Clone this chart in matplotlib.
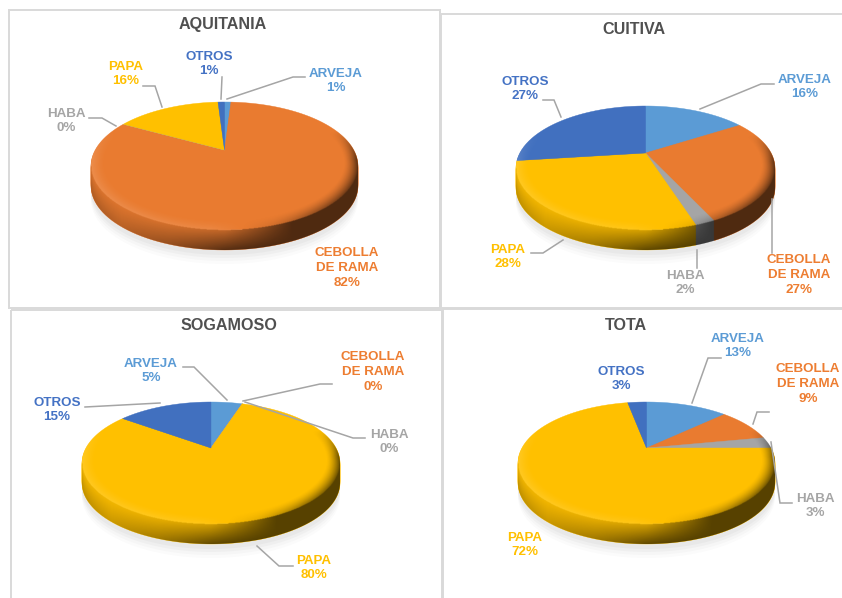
import numpy as np
import matplotlib
matplotlib.use('Agg')
import matplotlib.pyplot as plt
from matplotlib.path import Path
from matplotlib.patches import Circle, Polygon, Rectangle
from matplotlib.transforms import Transform, Affine2D

plt.rcParams['font.family'] = ['Liberation Sans', 'DejaVu Sans']

# data
categories = ['ARVEJA', 'CEBOLLA\nDE RAMA', 'HABA', 'PAPA', 'OTROS']
aquitania = [1, 82, 0, 16, 1]
cuitiva = [16, 27, 2, 28, 27]
sogamoso = [5, 0, 0, 80, 15]
tota = [13, 9, 3, 72, 3]

slice_colors = ['#5B9BD5', '#E97B30', '#A5A5A5', '#FFC000', '#4170BF']
text_colors = ['#5B9BD5', '#ED7D31', '#A5A5A5', '#FFC000', '#4472C4']

# layout in pixels: title, apex, pie top, face bottom, left, right
layout = {
    'AQUITANIA': dict(values=aquitania, title=(223, 25), apex=(225, 150), top=102, bottom=230, left=91, right=358),
    'CUITIVA': dict(values=cuitiva, title=(634, 29), apex=(646, 153), top=106, bottom=230, left=516, right=775),
    'SOGAMOSO': dict(values=sogamoso, title=(229, 325), apex=(211, 448), top=402, bottom=524, left=82, right=340),
    'TOTA': dict(values=tota, title=(626, 325), apex=(647, 448), top=402, bottom=524, left=518, right=775),
}

# label centres, same order as categories
label_pos = {
    'AQUITANIA': [(336, 81), (347, 268), (66, 121), (126, 74), (209, 64)],
    'CUITIVA': [(805, 87), (799, 275), (685, 283), (508, 257), (525, 89)],
    'SOGAMOSO': [(151, 371), (373, 372), (389, 442), (314, 568), (57, 410)],
    'TOTA': [(738, 346), (808, 384), (815, 506), (525, 545), (621, 379)],
}

# leader lines
leaders = [
    [(227, 99), (293, 77), (305, 77)],
    [(221, 99), (222, 77)],
    [(162, 107), (155, 86), (143, 86)],
    [(116, 126), (102, 118), (89, 118)],
    [(700, 109), (761, 84), (774, 84)],
    [(561, 117), (554, 100), (543, 100)],
    [(563, 240), (543, 253), (531, 253)],
    [(697, 250), (697, 268)],
    [(772, 199), (772, 253)],
    [(227, 400), (194, 367), (183, 367)],
    [(243, 401), (320, 384), (332, 384)],
    [(245, 402), (353, 438), (365, 438)],
    [(160, 403), (85, 407)],
    [(257, 546), (279, 566), (293, 566)],
    [(692, 403), (708, 358), (721, 358)],
    [(753, 424), (757, 412), (769, 412)],
    [(771, 442), (780, 503), (792, 503)],
]

frames = [(9, 10, 431, 298), (441, 14, 420, 294), (11, 310, 431, 300), (443, 309, 420, 300)]

DEPTH = 20


# tilts a unit circle into perspective, the apex is off the ellipse centre
class Tilt(Transform):
    input_dims = 2
    output_dims = 2
    has_inverse = False
    is_separable = False

    def __init__(self, cx, cy, A, B, k, dy=0):
        super().__init__()
        self.cx, self.cy, self.A, self.B, self.k, self.dy = cx, cy, A, B, k, dy

    def transform_non_affine(self, values):
        xy = np.asarray(values, dtype=float)
        w = 1 + self.k * xy[:, 1]
        return np.column_stack([self.cx + self.A * xy[:, 0] / w,
                                self.cy + self.dy - self.B * xy[:, 1] / w])

    def transform_path_non_affine(self, path):
        # flatten the curves first (scaled, otherwise too coarse)
        polys = path.to_polygons(Affine2D().scale(400), closed_only=False)
        if len(polys) == 0:
            return path
        return Path(self.transform_non_affine(polys[0] / 400))


def tilt_params(p):
    cx, cy = p['apex']
    up = cy - p['top']
    down = p['bottom'] - cy
    k = (down - up) / (down + up)
    B = up * (1 + k)
    A = (p['right'] - p['left']) / 2 * np.sqrt(1 - k ** 2)
    return (p['left'] + p['right']) / 2, cy, A, B, k


def draw_pie(ax, values, params, dy, zorder):
    wedges, _ = ax.pie(values, colors=slice_colors, startangle=90, counterclock=False,
                       wedgeprops=dict(linewidth=0.3))
    tr = Tilt(*params, dy=dy) + ax.transData
    for w, c in zip(wedges, slice_colors):
        w.set_transform(tr)
        w.set_edgecolor(c)
        w.set_zorder(zorder)


# the rim and side lighting goes on top as one clipped image
def draw_shading(ax, params, zorder):
    cx, cy, A, B, k = params
    tilt = Tilt(*params)
    th = np.linspace(0, 2 * np.pi, 721)[:-1]
    pts = tilt.transform_non_affine(np.column_stack([np.cos(th), np.sin(th)]))
    pts = np.roll(pts, -np.argmax(pts[:, 0]), axis=0)
    il = np.argmin(pts[:, 0])
    upper = pts[:il + 1]
    lower = pts[il:]
    outline = np.vstack([upper, lower + [0, DEPTH], pts[:1] + [0, DEPTH]])

    x0, x1 = pts[:, 0].min() - 2, pts[:, 0].max() + 2
    y0, y1 = pts[:, 1].min() - 2, pts[:, 1].max() + DEPTH + 2
    nx, ny = int((x1 - x0) * 2), int((y1 - y0) * 2)
    X, Y = np.meshgrid(np.linspace(x0, x1, nx), np.linspace(y0, y1, ny))

    # back to circle coordinates
    xp = (X - cx) / A
    yp = (cy - Y) / B
    w = 1 / (1 - k * yp)
    ux, uy = xp * w, yp * w
    r = np.hypot(ux, uy)
    t = np.clip((X - x0) / (x1 - x0), 0, 1)

    order = np.argsort(lower[:, 0])
    arc = np.interp(X, lower[order, 0], lower[order, 1])
    v = np.clip((Y - arc) / DEPTH, 0, 1)

    # side, light band under the rim on the left, flat dark on the right
    side = np.interp(t, [0, 0.12, 0.3, 0.55, 0.75, 1], [0.2, 0.16, 0.28, 0.52, 0.66, 0.66])
    f = np.interp(t, [0, 0.5, 0.75], [0, 0, 1])
    side = side * ((1 - f) * (0.35 + 0.95 * v) + f)
    side = np.clip(side, 0, 0.8)

    # bevel ring on the top face
    s = np.clip((r - 0.9) / 0.1, 0, 1) ** 1.5
    front = np.clip((0.35 - uy / np.maximum(r, 1e-6)) / 0.5, 0, 1)
    light = np.interp(t, [0, 0.45, 0.68, 0.85, 1], [0.14, 0.1, -0.1, -0.4, -0.6])
    ring = light * s * front

    rgba = np.zeros((ny, nx, 4))
    face = (r <= 1) | (Y < arc)
    rgba[..., 3] = np.where(face, np.abs(ring), side)
    rgba[..., :3] = np.where((face & (ring > 0))[..., None], 1.0, 0.0)

    im = ax.imshow(rgba, extent=(x0, x1, y1, y0), aspect='auto', zorder=zorder,
                   interpolation='bilinear')
    clip = Polygon(outline, closed=True, transform=ax.transData, facecolor='none', edgecolor='none')
    ax.add_patch(clip)
    im.set_clip_path(clip)


fig = plt.figure(figsize=(8.42, 5.98), dpi=100, facecolor='white')
ax = fig.add_axes([0, 0, 1, 1])

for i, (name, p) in enumerate(layout.items()):
    params = tilt_params(p)

    # soft shadow
    for d, a in zip((34, 31, 28, 25), (0.03, 0.04, 0.05, 0.06)):
        ax.add_patch(Circle((0, 0), 1.0, facecolor='#808080', edgecolor='none', alpha=a,
                            transform=Tilt(*params, dy=d) + ax.transData, zorder=2))

    for d in range(DEPTH, 0, -1):
        draw_pie(ax, p['values'], params, d, 3)
    draw_pie(ax, p['values'], params, 0, 4)
    draw_shading(ax, params, 5)

    ax.text(*p['title'], name, ha='center', va='center', fontsize=11.6, fontweight='bold',
            color='#505050', zorder=8)
    for cat, val, col, pos in zip(categories, p['values'], text_colors, label_pos[name]):
        ax.text(*pos, '%s\n%d%%' % (cat, val), ha='center', va='center', fontsize=9.6,
                fontweight='bold', color=col, linespacing=1.32, zorder=8)

for line in leaders:
    xs, ys = zip(*line)
    ax.plot(xs, ys, color='#A5A5A5', lw=1.1, zorder=7, solid_joinstyle='miter')

for x, y, w, h in frames:
    ax.add_patch(Rectangle((x, y), w, h, facecolor='none', edgecolor='#D9D9D9', lw=1.4, zorder=1))

ax.set_aspect('auto')
ax.set_xlim(0, 842)
ax.set_ylim(598, 0)
ax.axis('off')

fig.savefig('out.png', dpi=100)
